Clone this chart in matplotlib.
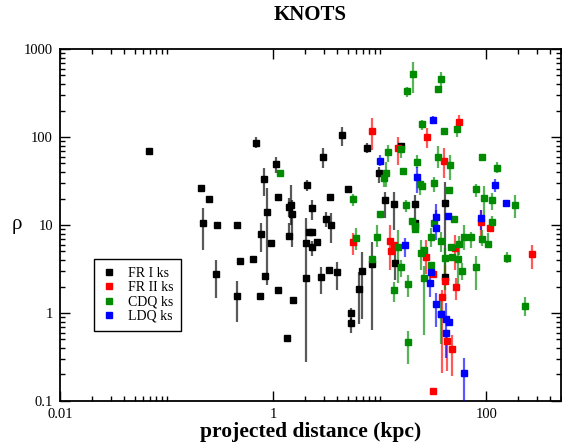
"""Knot density vs projected distance, log-log scatter with error bars."""

import matplotlib
matplotlib.use('Agg')
import matplotlib.pyplot as plt
from matplotlib.lines import Line2D
from matplotlib.ticker import FixedLocator, NullFormatter
import numpy as np

# FR I knots: distance (kpc), rho, lower and upper end of error bar
fr1_x = [0.069, 0.21, 0.25, 0.22, 0.30, 0.46, 0.29, 0.46, 0.49, 0.65, 0.76, 0.69,
         0.82, 0.88, 0.77, 0.96, 0.84, 1.11, 1.54, 1.35, 1.07, 1.11, 1.41, 1.47,
         1.50, 1.41, 2.03, 2.03, 2.17, 2.31, 2.31, 2.58, 2.31, 2.08, 2.93, 2.81,
         3.34, 3.96, 3.13, 3.49, 3.41, 4.42, 5.02, 5.35, 5.35, 6.36, 6.79, 8.42,
         7.56, 9.79, 11.1, 13.5, 13.8, 16.0, 21.3, 21.3, 41.4, 41.4]
fr1_y = [70, 26, 20, 10.4, 10, 10, 2.75, 1.57, 3.9, 4.1, 1.55, 85,
         33, 14.1, 7.9, 6.2, 2.6, 1.83, 1.41, 0.52, 49.5, 20.7, 16.0, 16.8,
         13.4, 7.5, 2.5, 6.2, 8.3, 8.3, 5.6, 6.4, 15.6, 28.6, 59, 2.55,
         3.1, 2.9, 11.8, 10.1, 20.7, 105, 25.8, 1.0, 0.77, 1.87, 3.0, 3.6,
         75, 39, 19.2, 17.3, 3.7, 79, 17.3, 10.6, 17.7, 2.55]
fr1_lo = [70, 26, 20, 5.2, 10, 10, 1.48, 0.79, 3.9, 4.1, 1.41, 75,
          21.5, 2.1, 4.9, 6.2, 2.6, 1.83, 1.41, 0.52, 39, 20.7, 12.4, 10.1,
          5.6, 7.1, 0.28, 6.2, 8.3, 8.3, 4.5, 6.4, 11.4, 24.5, 44.5, 1.65,
          2.8, 1.83, 9.6, 6.2, 20.7, 79, 25.8, 0.84, 0.6, 0.74, 0.85, 0.64,
          66, 30, 12.1, 8.8, 2.35, 79, 10.1, 10.6, 2.55, 2.55]
fr1_hi = [70, 26, 20, 15.6, 10, 10, 4.0, 2.3, 3.9, 4.1, 1.65, 100,
          44.5, 26, 10.6, 6.2, 2.6, 1.83, 1.41, 0.52, 59, 20.7, 20.2, 28.6,
          19.2, 10.6, 12, 6.2, 8.3, 8.3, 6.6, 6.4, 19.2, 32.5, 75, 3.3,
          3.3, 3.8, 14.1, 13.8, 20.7, 130, 25.8, 1.15, 0.88, 2.9, 4.9, 6.4,
          85, 46, 23.6, 23.6, 5.2, 79, 22, 10.6, 31, 2.55]

# FR II knots
fr2_x = [8.42, 14.7, 27.5, 55.9, 40.5, 5.59, 12.4, 12.9, 13.5, 27.0, 31.3,
         41.4, 52.4, 38.8, 43.2, 48.1, 31.3, 51.3, 90, 109, 268]
fr2_y = [117, 75, 100, 148, 53.5, 6.4, 6.6, 5.1, 5.9, 4.3, 2.75,
         2.3, 2.0, 1.53, 0.48, 0.39, 0.13, 5.5, 10.9, 9.3, 4.7]
fr2_lo = [71, 48, 75, 120, 34, 4.6, 3.1, 5.1, 5.9, 2.8, 2.75,
          1.41, 1.41, 0.21, 0.22, 0.19, 0.13, 3.1, 7.5, 9.3, 3.2]
fr2_hi = [164, 100, 127, 178, 75, 8.1, 10.1, 5.1, 5.9, 6.7, 2.75,
          3.5, 2.5, 1.83, 0.56, 0.56, 0.13, 7.7, 14.8, 9.3, 5.9]

# CDQ knots
cdq_x = [1.16, 5.59, 11.9, 11.4, 10.9, 10.0, 16.0, 16.4, 17.5, 17.9, 20.4, 37.2,
         34.9, 24.7, 40.5, 53.6, 22.2, 34.9, 46.1, 92, 127, 23.7, 24.7, 32.0,
         45.1, 80.6, 96.1, 114, 187, 19.9, 21.3, 21.3, 32.0, 50.2, 114, 5.96,
         9.39, 8.42, 14.7, 16.0, 13.5, 18.3, 18.3, 30.0, 37.2, 24.2, 25.8, 25.8,
         30.0, 41.4, 48.1, 47.1, 55.9, 54.7, 62.3, 72.4, 59.7, 80.6, 92.0, 104.5,
         157, 232, 37.2]
cdq_y = [39, 19.7, 68, 39, 34.3, 13.4, 73, 41, 16.8, 333, 520, 456,
         351, 141, 117, 123, 52, 59, 48, 59, 44.5, 29.3, 27.8, 30.1,
         25.1, 25.8, 20.2, 19.2, 16.8, 11.2, 9.8, 9.1, 10.6, 11.8, 10.9, 7.1,
         7.3, 4.1, 5.6, 3.3, 1.83, 2.15, 0.47, 7.3, 6.6, 4.8, 5.2, 2.5,
         3.5, 4.2, 4.3, 5.6, 6.1, 4.1, 7.3, 7.3, 3.0, 3.3, 6.9, 6.1,
         4.2, 1.2, 0.97]
cdq_lo = [39, 16.5, 52, 27, 27, 13.4, 57, 41, 14.1, 285, 316, 370,
          351, 120, 117, 100, 44.5, 44.5, 32.5, 59, 39, 22, 27.8, 24,
          25.1, 20.7, 12.4, 14.8, 12.1, 11.2, 9.8, 9.1, 10.6, 11.8, 9.8, 5.2,
          5.6, 4.1, 2.2, 2.55, 1.35, 1.53, 0.26, 5.6, 4.9, 3.1, 5.2, 0.56,
          3.5, 1.83, 4.3, 5.6, 4.6, 1.83, 5.2, 5.5, 2.35, 1.83, 5.8, 5.6,
          3.7, 0.92, 0.44]
cdq_hi = [39, 22.5, 81, 52, 42, 13.4, 81, 41, 19.2, 370, 710, 550,
          351, 156, 117, 144, 63, 79, 63, 59, 52, 34, 27.8, 35,
          25.1, 29.3, 27.8, 23, 22, 11.2, 9.8, 9.1, 10.6, 11.8, 12.7, 9.3,
          10.1, 4.1, 8.8, 4.0, 2.25, 2.7, 0.62, 9.3, 8.3, 6.7, 5.2, 3.4,
          3.5, 5.5, 4.3, 5.6, 7.5, 5.2, 10.1, 8.3, 3.7, 4.5, 8.8, 8.1,
          4.9, 1.53, 1.53]

# LDQ knots
ldq_x = [10.0, 31.3, 22.2, 33.4, 34.1, 44.1, 90, 121, 154, 17.1, 30.0,
         29.4, 34.1, 38.0, 42.3, 45.1, 42.3, 62.3]
ldq_y = [53.5, 156, 35, 12.4, 9.3, 12.7, 12.1, 28.6, 17.7, 5.9, 2.9,
         2.2, 1.27, 0.97, 0.85, 0.79, 0.59, 0.21]
ldq_lo = [47, 141, 23, 8.8, 6.7, 12.7, 8.8, 23.9, 17.7, 4.3, 2.9,
          1.53, 0.69, 0.97, 0.85, 0.79, 0.31, 0.1]
ldq_hi = [63, 173, 46, 17.3, 14.8, 12.7, 14.8, 33.4, 17.7, 7.1, 2.9,
          2.7, 1.7, 0.97, 0.85, 0.79, 1.3, 0.31]

plt.rcParams['font.family'] = ['Liberation Serif', 'DejaVu Serif']


def plot_knots(ax, x, y, lo, hi, color):
    """Draw one class of knots with vertical error bars, no caps."""
    y = np.array(y)
    yerr = [y - np.array(lo), np.array(hi) - y]
    ecol = matplotlib.colors.to_rgba(color, 0.65)
    ax.errorbar(x, y, yerr=yerr, fmt='s', ms=5, mfc=color, mec=color,
                ecolor=ecol, elinewidth=1.6, capsize=0, zorder=3)


fig = plt.figure(figsize=(5.62, 4.45), dpi=100)
ax = fig.add_axes([0.1068, 0.0989, 0.891, 0.791])

plot_knots(ax, fr1_x, fr1_y, fr1_lo, fr1_hi, 'black')
plot_knots(ax, fr2_x, fr2_y, fr2_lo, fr2_hi, '#ff0000')
plot_knots(ax, cdq_x, cdq_y, cdq_lo, cdq_hi, '#008b00')
plot_knots(ax, ldq_x, ldq_y, ldq_lo, ldq_hi, '#0000ff')

ax.set_xscale('log')
ax.set_yscale('log')
ax.set_xlim(0.01, 500)
ax.set_ylim(0.1, 1000)

ax.xaxis.set_major_locator(FixedLocator([0.01, 1, 100]))
ax.set_xticklabels(['0.01', '1', '100'])
xminor = [m * 10.0 ** k for k in (-2, 0, 2) for m in range(2, 11)]
ax.xaxis.set_minor_locator(FixedLocator(xminor))
ax.xaxis.set_minor_formatter(NullFormatter())

ax.yaxis.set_major_locator(FixedLocator([0.1, 1, 10, 100, 1000]))
ax.set_yticklabels(['0.1', '1', '10', '100', '1000'])
yminor = [m * 10.0 ** k for k in range(-1, 3) for m in range(2, 10)]
ax.yaxis.set_minor_locator(FixedLocator(yminor))
ax.yaxis.set_minor_formatter(NullFormatter())

ax.tick_params(which='both', direction='in', top=True, right=True,
               labelsize=10.5, width=1.0)
ax.tick_params(which='major', length=7, pad=5)
ax.tick_params(which='minor', length=3.5)
for sp in ax.spines.values():
    sp.set_linewidth(1.3)

ax.set_title('KNOTS', fontsize=15, fontweight='bold', pad=21)
ax.set_xlabel('projected distance (kpc)', fontsize=15.5, fontweight='bold',
              labelpad=1)
ax.set_ylabel('\u03c1', fontsize=15, rotation=0, ha='center', va='center')
ax.yaxis.set_label_coords(-0.086, 0.5)

handles = [Line2D([], [], ls='none', marker='s', ms=4, color=c)
           for c in ['black', '#ff0000', '#008b00', '#0000ff']]
ax.legend(handles, ['FR I ks', 'FR II ks', 'CDQ ks', 'LDQ ks'],
          loc='lower left', bbox_to_anchor=(0.068, 0.2), fontsize=10,
          frameon=True, fancybox=False, edgecolor='black', framealpha=1,
          handlelength=1.0, handletextpad=0.9, labelspacing=0.1,
          borderpad=0.55, borderaxespad=0)

fig.savefig('out.png', dpi=100)
